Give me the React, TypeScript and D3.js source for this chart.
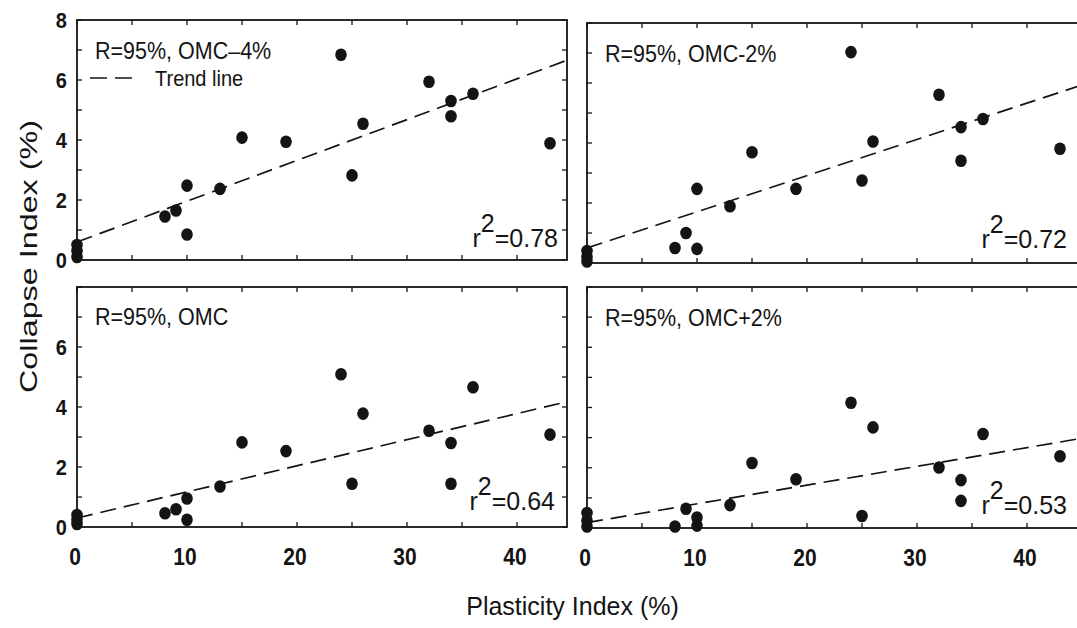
import React from "react";
import * as d3 from "d3";

// ---------- data ----------
const plasticityIndex = [0, 0, 0, 8, 9, 10, 10, 13, 15, 19, 24, 25, 26, 32, 34, 34, 36, 43];
const collapseOmcMinus4 = [0.1, 0.3, 0.5, 1.45, 1.65, 2.48, 0.85, 2.37, 4.08, 3.94, 6.84, 2.82, 4.54, 5.94, 5.3, 4.79, 5.54, 3.89];
const collapseOmcMinus2 = [0.05, 0.2, 0.4, 0.5, 1.0, 2.47, 0.47, 1.89, 3.69, 2.47, 7.03, 2.75, 4.05, 5.61, 4.53, 3.41, 4.8, 3.81];
const collapseOmc = [0.1, 0.25, 0.4, 0.46, 0.59, 0.95, 0.24, 1.35, 2.82, 2.53, 5.09, 1.44, 3.78, 3.21, 2.8, 1.44, 4.66, 3.08];
const collapseOmcPlus2 = [0.05, 0.25, 0.5, 0.05, 0.64, 0.35, 0.08, 0.76, 2.16, 1.62, 4.16, 0.4, 3.34, 2.01, 1.59, 0.9, 3.12, 2.38];

const panelLabels = ["R=95%, OMC\u20134%", "R=95%, OMC-2%", "R=95%, OMC", "R=95%, OMC+2%"];
const rSquaredLabels = ["0.78", "0.72", "0.64", "0.53"];
const trendIntercepts = [0.6, 0.5, 0.3, 0.18];
const trendSlopes = [0.136, 0.1207, 0.087, 0.0622];

const xTickLabels = [0, 10, 20, 30, 40];
const yTickLabelsTop = [0, 2, 4, 6, 8];
const yTickLabelsBottom = [0, 2, 4, 6];
const xMinorTicks = [0, 5, 10, 15, 20, 25, 30, 35, 40, 45];
const yMinorTicks = [0, 1, 2, 3, 4, 5, 6, 7, 8];

const xTitle = "Plasticity Index (%)";
const yTitle = "Collapse Index (%)";
const legendLabel = "Trend line";

// ---------- layout ----------
const W = 1077;
const H = 628;
const FONT = "'Liberation Sans', Arial, Helvetica, sans-serif";
const INK = "#141414";

type Layout = { x0: number; x1: number; top: number; bottom: number; showX: boolean; yTicks: number[] | null; labelDy: number; rEnd: number; rBase: number };

const layouts: Layout[] = [
  { x0: 77, x1: 567, top: 20, bottom: 260, showX: false, yTicks: yTickLabelsTop, labelDy: 39, rEnd: 558, rBase: 247 },
  { x0: 587, x1: 1083, top: 23, bottom: 263, showX: false, yTicks: null, labelDy: 39, rEnd: 1067, rBase: 248 },
  { x0: 77, x1: 567, top: 287, bottom: 527, showX: true, yTicks: yTickLabelsBottom, labelDy: 38, rEnd: 555, rBase: 510 },
  { x0: 587, x1: 1083, top: 287, bottom: 528, showX: true, yTicks: null, labelDy: 39, rEnd: 1067, rBase: 514 },
];

const series = [collapseOmcMinus4, collapseOmcMinus2, collapseOmc, collapseOmcPlus2];

function Panel({ i }: { i: number }) {
  const L = layouts[i];
  const xMax = (L.x1 - L.x0) / 11;
  const x = d3.scaleLinear().domain([0, xMax]).range([L.x0, L.x1]);
  const y = d3.scaleLinear().domain([0, 8]).range([L.bottom, L.top]);
  const ys = series[i];
  const a = trendIntercepts[i];
  const b = trendSlopes[i];
  const trend = d3.line<number>().x((d) => x(d)).y((d) => y(a + b * d))([0, xMax]) || "";
  const clipId = `clip${i}`;
  const tk = 5;
  const sy = 1.1;
  return (
    <g>
      <defs>
        <clipPath id={clipId}>
          <rect x={L.x0} y={L.top} width={L.x1 - L.x0} height={L.bottom - L.top} />
        </clipPath>
      </defs>
      {xMinorTicks.filter((t) => t <= xMax).map((t) => (
        <g key={"xt" + t} stroke={INK} strokeWidth={1.3}>
          <line x1={x(t)} x2={x(t)} y1={L.bottom} y2={L.bottom - tk} />
          <line x1={x(t)} x2={x(t)} y1={L.top} y2={L.top + tk} />
        </g>
      ))}
      {yMinorTicks.map((t) => (
        <g key={"yt" + t} stroke={INK} strokeWidth={1.3}>
          <line x1={L.x0} x2={L.x0 + tk} y1={y(t)} y2={y(t)} />
          <line x1={L.x1} x2={L.x1 - tk} y1={y(t)} y2={y(t)} />
        </g>
      ))}
      <path d={trend} fill="none" stroke={INK} strokeWidth={1.7} strokeDasharray="16,8" clipPath={`url(#${clipId})`} />
      {plasticityIndex.map((px, k) => (
        <ellipse key={"p" + k} cx={x(px)} cy={y(ys[k])} rx={5.8} ry={6.3} fill={INK} />
      ))}
      <rect x={L.x0} y={L.top} width={L.x1 - L.x0} height={L.bottom - L.top} fill="none" stroke={INK} strokeWidth={1.8} />
      <text transform={`translate(${L.x0 + 18},${L.top + L.labelDy}) scale(1,${sy})`} fontSize={21.5} fontFamily={FONT} fill={INK}>
        {panelLabels[i]}
      </text>
      <text transform={`translate(${L.rEnd},${L.rBase}) scale(1,1.05)`} textAnchor="end" fontSize={25} fontFamily={FONT} fill={INK}>
        r<tspan dy={-14}>2</tspan>
        <tspan dy={14}>={rSquaredLabels[i]}</tspan>
      </text>
      {L.yTicks &&
        L.yTicks.map((t) => (
          <text key={"yl" + t} transform={`translate(67,${y(t) + 7.5}) scale(1,1.12)`} textAnchor="end" fontSize={20} fontWeight={700} fontFamily={FONT} fill={INK}>
            {t}
          </text>
        ))}
      {L.showX &&
        xTickLabels.map((t) => (
          <text key={"xl" + t} transform={`translate(${x(t) - 2},${L.bottom + 38}) scale(1,1.12)`} textAnchor="middle" fontSize={21} fontWeight={700} fontFamily={FONT} fill={INK}>
            {t}
          </text>
        ))}
    </g>
  );
}

export default function App() {
  return (
    <svg width={W} height={H} viewBox={`0 0 ${W} ${H}`} style={{ position: "absolute", left: 0, top: 0, background: "#fff" }}>
      <rect x={0} y={0} width={W} height={H} fill="#fff" />
      {layouts.map((_, i) => (
        <Panel key={i} i={i} />
      ))}
      <line x1={90} x2={132} y1={78} y2={78} stroke={INK} strokeWidth={1.6} strokeDasharray="17,8" />
      <text transform="translate(155,86) scale(1,1.1)" fontSize={20} fontFamily={FONT} fill={INK}>
        {legendLabel}
      </text>
      <text x={572.5} y={615} textAnchor="middle" fontSize={25} fontFamily={FONT} fill={INK}>
        {xTitle}
      </text>
      <text transform="translate(37,256.5) rotate(-90)" textAnchor="middle" fontSize={24} fontFamily={FONT} fill={INK} textLength={273} lengthAdjust="spacingAndGlyphs">
        {yTitle}
      </text>
    </svg>
  );
}
